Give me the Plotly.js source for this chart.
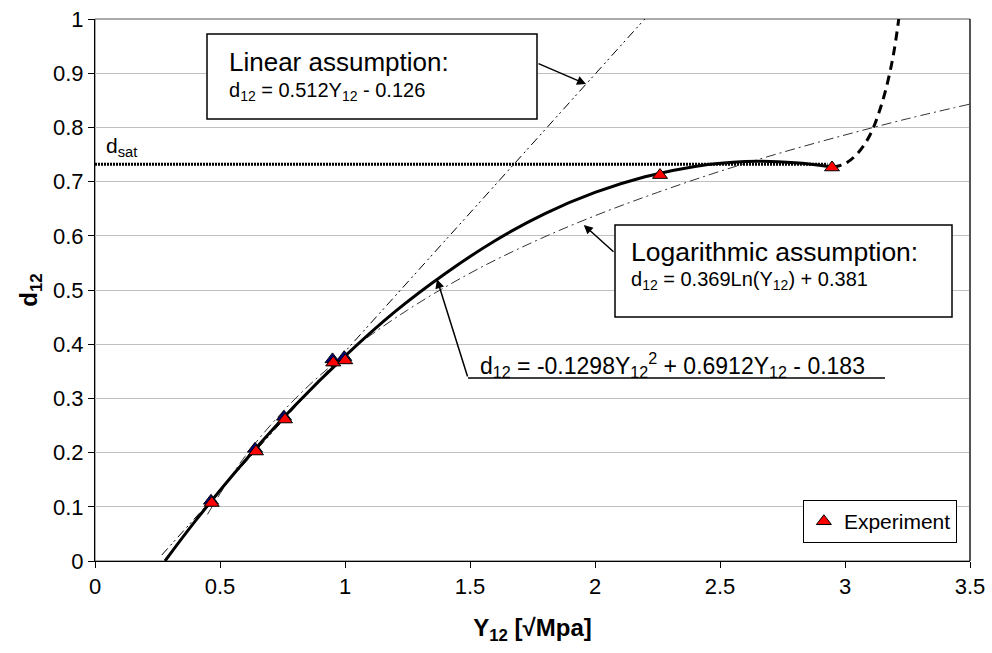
<!DOCTYPE html>
<html>
<head>
<meta charset="utf-8">
<script src="https://cdn.plot.ly/plotly-3.0.1.min.js"></script>
<style>html,body{margin:0;padding:0;background:#fff;}#chart{width:992px;height:653px;}</style>
</head>
<body>
<div id="chart"></div>
<script>
// Experimental points (red triangles)
const expX = [0.467, 0.644, 0.760, 0.953, 1.001, 2.260, 2.948];
const expY = [0.107, 0.202, 0.261, 0.366, 0.370, 0.712, 0.726];
// Second (hidden-legend) navy triangles, slightly offset
const blueX = [0.464, 0.640, 0.756, 0.950, 0.997];
const blueY = [0.111, 0.207, 0.266, 0.372, 0.376];
// Quadratic fit d12 = -0.1298Y^2 + 0.6912Y - 0.183
const quadX = [0.28, 0.4, 0.6, 0.8, 1.0, 1.2, 1.4, 1.6, 1.8, 2.0, 2.2, 2.4, 2.6, 2.8, 2.95];
const quadY = [0.000, 0.073, 0.185, 0.287, 0.378, 0.460, 0.530, 0.591, 0.641, 0.680, 0.709, 0.728, 0.737, 0.735, 0.727];
// Dashed extension beyond last point
const extX = [2.95, 3.0, 3.05, 3.1, 3.15, 3.19, 3.215];
const extY = [0.7265, 0.733, 0.752, 0.786, 0.848, 0.925, 1.0];
// Linear assumption d12 = 0.512Y - 0.126
const linX = [0.267, 2.199];
const linY = [0.011, 1.0];
// Logarithmic assumption d12 = 0.369Ln(Y) + 0.381
const logX = [0.45, 0.6, 0.8, 1.0, 1.25, 1.5, 1.75, 2.0, 2.25, 2.5, 2.75, 3.0, 3.25, 3.5];
const logY = [0.086, 0.193, 0.299, 0.381, 0.463, 0.531, 0.588, 0.637, 0.680, 0.719, 0.754, 0.786, 0.816, 0.843];
// Saturation level
const dsatX = [0, 2.93];
const dsatY = [0.732, 0.732];
const xTicks = [0, 0.5, 1, 1.5, 2, 2.5, 3, 3.5];
const yTicks = [0, 0.1, 0.2, 0.3, 0.4, 0.5, 0.6, 0.7, 0.8, 0.9, 1];

const FONT = 'Liberation Sans, Arial, sans-serif';

const traces = [
  {x: dsatX, y: dsatY, mode: 'lines', line: {color: '#000', width: 3, dash: '2px,1px'}, showlegend: false, hoverinfo: 'skip'},
  {x: linX, y: linY, mode: 'lines', line: {color: '#000', width: 1, dash: '9px,4px,2px,3px,2px,4px'}, showlegend: false, hoverinfo: 'skip'},
  {x: logX, y: logY, mode: 'lines', line: {color: '#333', width: 1, dash: '10px,4px,2px,4px', shape: 'spline'}, showlegend: false, hoverinfo: 'skip'},
  {x: quadX, y: quadY, mode: 'lines', line: {color: '#000', width: 3, shape: 'spline'}, showlegend: false, hoverinfo: 'skip'},
  {x: extX, y: extY, mode: 'lines', line: {color: '#000', width: 3, dash: '9px,6px', shape: 'spline'}, showlegend: false, hoverinfo: 'skip'},
  {x: blueX, y: blueY, mode: 'markers', marker: {symbol: 'triangle-up', size: 13, color: '#000080', line: {color: '#000', width: 1}}, showlegend: false, hoverinfo: 'skip'},
  {x: expX, y: expY, mode: 'markers', name: 'Experiment', marker: {symbol: 'triangle-up', size: 13, color: '#FF0000', line: {color: '#000', width: 1}}}
];

const layout = {
  width: 992, height: 653,
  margin: {l: 95, r: 22, t: 19, b: 92},
  paper_bgcolor: '#fff', plot_bgcolor: '#fff',
  font: {family: FONT, color: '#000', size: 22},
  showlegend: true,
  legend: {x: 0.985, xanchor: 'right', y: 0.033, yanchor: 'bottom', bordercolor: '#000', borderwidth: 1, bgcolor: '#fff', font: {size: 21, family: FONT}},
  xaxis: {
    range: [0, 3.5], tickvals: xTicks, ticktext: xTicks.map(String),
    showgrid: false, zeroline: false, showline: true, linecolor: '#000', linewidth: 1,
    ticks: 'outside', ticklen: 6, tickcolor: '#000', tickfont: {size: 22, family: FONT},
    title: {text: '<b>Y<sub>12</sub> [√Mpa]</b>', font: {size: 24, family: FONT}, standoff: 20}
  },
  yaxis: {
    range: [0, 1], tickvals: yTicks, ticktext: yTicks.map(String),
    showgrid: true, gridcolor: '#C0C0C0', gridwidth: 1, zeroline: false, showline: true, linecolor: '#000', linewidth: 1,
    ticks: 'outside', ticklen: 6, tickcolor: '#000', tickfont: {size: 22, family: FONT},
    title: {text: '<b>d<sub>12</sub></b>', font: {size: 24, family: FONT}, standoff: 8}
  },
  shapes: [
    {type: 'rect', xref: 'paper', yref: 'paper', x0: 0, x1: 1, y0: 0, y1: 1, line: {color: '#555', width: 1}, layer: 'below'},
    {type: 'line', xref: 'paper', yref: 'paper', x0: 1, x1: 1, y0: 0, y1: 1, line: {color: '#000', width: 1}},
    {type: 'rect', xref: 'x', yref: 'y', x0: 0.448, x1: 1.768, y0: 0.8155, y1: 0.9723, line: {color: '#000', width: 1.5}, fillcolor: '#fff', layer: 'above'},
    {type: 'rect', xref: 'x', yref: 'y', x0: 2.08, x1: 3.428, y0: 0.450, y1: 0.620, line: {color: '#000', width: 1.5}, fillcolor: '#fff', layer: 'above'},
    {type: 'line', xref: 'x', yref: 'y', x0: 1.492, x1: 3.16, y0: 0.3376, y1: 0.3376, line: {color: '#000', width: 1.5}}
  ],
  annotations: [
    {x: 0.528, y: 0.920, xref: 'x', yref: 'y', xanchor: 'left', yanchor: 'middle', showarrow: false, text: 'Linear assumption:', font: {size: 26, family: FONT}},
    {x: 0.528, y: 0.867, xref: 'x', yref: 'y', xanchor: 'left', yanchor: 'middle', showarrow: false, text: 'd<sub>12</sub> = 0.512Y<sub>12</sub> - 0.126', font: {size: 20, family: FONT}},
    {x: 2.136, y: 0.571, xref: 'x', yref: 'y', xanchor: 'left', yanchor: 'middle', showarrow: false, text: 'Logarithmic assumption:', font: {size: 26.5, family: FONT}},
    {x: 2.136, y: 0.518, xref: 'x', yref: 'y', xanchor: 'left', yanchor: 'middle', showarrow: false, text: 'd<sub>12</sub> = 0.369Ln(Y<sub>12</sub>) + 0.381', font: {size: 20, family: FONT}},
    {x: 1.532, y: 0.362, xref: 'x', yref: 'y', xanchor: 'left', yanchor: 'middle', showarrow: false, text: 'd<sub>12</sub> = -0.1298Y<sub>12</sub><sup>2</sup> + 0.6912Y<sub>12</sub> - 0.183', font: {size: 23, family: FONT}},
    {x: 0.036, y: 0.764, xref: 'x', yref: 'y', xanchor: 'left', yanchor: 'middle', showarrow: false, text: 'd<sub>sat</sub>', font: {size: 21, family: FONT}},
    {x: 1.964, y: 0.880, ax: 1.768, ay: 0.9188, xref: 'x', yref: 'y', axref: 'x', ayref: 'y', text: '', showarrow: true, arrowhead: 2, arrowsize: 1.2, arrowwidth: 1.5, arrowcolor: '#000', standoff: 0, startstandoff: 0},
    {x: 1.955, y: 0.620, ax: 2.08, ay: 0.568, xref: 'x', yref: 'y', axref: 'x', ayref: 'y', text: '', showarrow: true, arrowhead: 2, arrowsize: 1.2, arrowwidth: 1.5, arrowcolor: '#000', standoff: 0, startstandoff: 0},
    {x: 1.368, y: 0.5197, ax: 1.492, ay: 0.3376, xref: 'x', yref: 'y', axref: 'x', ayref: 'y', text: '', showarrow: true, arrowhead: 2, arrowsize: 1.2, arrowwidth: 1.5, arrowcolor: '#000', standoff: 0, startstandoff: 0}
  ]
};

Plotly.newPlot('chart', traces, layout, {displayModeBar: false, staticPlot: true});
</script>
</body>
</html>
